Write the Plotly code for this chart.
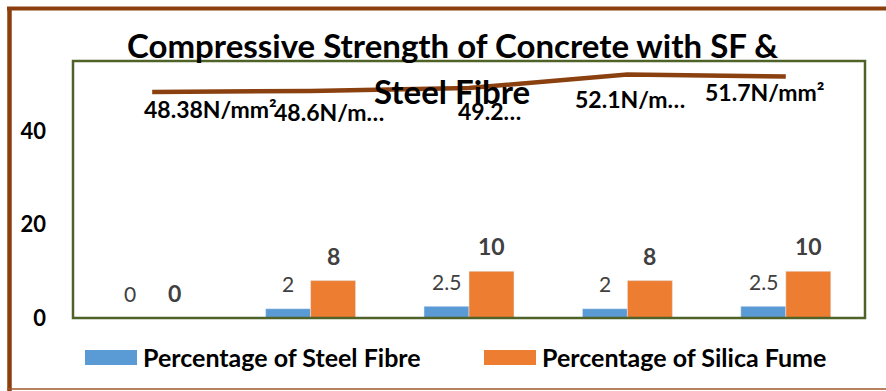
import plotly.graph_objects as go

# Mix designs (five concrete batches)
mixes = ["M1", "M2", "M3", "M4", "M5"]
steel_fibre = [0, 2, 2.5, 2, 2.5]          # % steel fibre
silica_fume = [0, 8, 10, 8, 10]            # % silica fume
strength = [48.38, 48.6, 49.2, 52.1, 51.7]  # compressive strength, N/mm²
strength_labels = ["48.38N/mm²", "48.6N/m…", "49.2…", "52.1N/m…", "51.7N/mm²"]
y_ticks = [0, 20, 40]

W, H = 886, 391
L, R, T, B = 73, 21, 61, 73
PW, PH = W - L - R, H - T - B
FONT = "Lato, 'Open Sans', sans-serif"

BLUE = "#5B9BD5"
ORANGE = "#ED7D31"
BROWN = "#8B3F0F"
GREEN = "#4F6228"
GREY = "#404040"


def px(x):
    return (x - L) / PW


def py(y):
    return (H - B - y) / PH


fig = go.Figure()
fig.add_trace(go.Bar(x=mixes, y=steel_fibre, marker_color=BLUE,
                     name="Percentage of Steel Fibre"))
fig.add_trace(go.Bar(x=mixes, y=silica_fume, marker_color=ORANGE,
                     name="Percentage of Silica Fume"))
fig.add_trace(go.Scatter(x=mixes, y=strength, mode="lines",
                         line=dict(color="#8B4010", width=4.5),
                         name="Compressive Strength"))

annotations = []

# value labels above the bars
for i, m in enumerate(mixes):
    annotations.append(dict(x=m, y=steel_fibre[i], xref="x", yref="y",
                            text=f"{steel_fibre[i]:g}", showarrow=False,
                            xshift=-22.5, yshift=25, yanchor="middle",
                            font=dict(family=FONT, size=21, color=GREY)))
    annotations.append(dict(x=m, y=silica_fume[i], xref="x", yref="y",
                            text=f"<b>{silica_fume[i]:g}</b>", showarrow=False,
                            xshift=22.5, yshift=25, yanchor="middle",
                            font=dict(family=FONT, size=23, color=GREY)))

# strength labels under the line
label_shift = [(58, -17), (18, -21), (20, -23), (3, -24), (-21, -16)]
for i, m in enumerate(mixes):
    dx, dy = label_shift[i]
    annotations.append(dict(x=m, y=strength[i], xref="x", yref="y",
                            text=f"<b>{strength_labels[i]}</b>", showarrow=False,
                            xshift=dx, yshift=dy, yanchor="middle",
                            font=dict(family=FONT, size=23, color="black")))

# chart title, two lines
annotations.append(dict(x=px(452), y=py(45), xref="paper", yref="paper",
                        text="<b>Compressive Strength of Concrete with SF &</b>",
                        showarrow=False, yanchor="middle",
                        font=dict(family=FONT, size=33, color="black")))
annotations.append(dict(x=px(452), y=py(91), xref="paper", yref="paper",
                        text="<b>Steel Fibre</b>",
                        showarrow=False, yanchor="middle",
                        font=dict(family=FONT, size=33, color="black")))

# legend entries
legend_items = [("Percentage of Steel Fibre", BLUE, 85), ("Percentage of Silica Fume", ORANGE, 484)]
shapes = []
for text, color, x0 in legend_items:
    shapes.append(dict(type="rect", xref="paper", yref="paper",
                       x0=px(x0), x1=px(x0 + 52), y0=py(365), y1=py(350),
                       fillcolor=color, line=dict(width=0)))
    annotations.append(dict(x=px(x0 + 56), y=py(357), xref="paper", yref="paper",
                            text=f"<b>{text}</b>", showarrow=False,
                            xanchor="left", yanchor="middle",
                            font=dict(family=FONT, size=25, color="black")))

# plot-area frame
shapes.append(dict(type="rect", xref="paper", yref="paper", x0=0, x1=1, y0=0, y1=1,
                   line=dict(color=GREEN, width=2.5), layer="above"))
# outer chart frame
shapes.append(dict(type="line", xref="paper", yref="paper",
                   x0=px(9.5), x1=px(9.5), y0=py(7), y1=py(391),
                   line=dict(color=BROWN, width=4.5)))
shapes.append(dict(type="line", xref="paper", yref="paper",
                   x0=px(7), x1=px(886), y0=py(8.5), y1=py(8.5),
                   line=dict(color=BROWN, width=4)))
shapes.append(dict(type="line", xref="paper", yref="paper",
                   x0=px(7), x1=px(886), y0=py(389), y1=py(389),
                   line=dict(color="#A0582A", width=1.5)))

fig.update_layout(
    width=W, height=H,
    margin=dict(l=L, r=R, t=T, b=B),
    paper_bgcolor="white", plot_bgcolor="white",
    barmode="group", bargap=0.432, bargroupgap=0,
    showlegend=False,
    annotations=annotations,
    shapes=shapes,
    xaxis=dict(showticklabels=False, showgrid=False, zeroline=False,
               showline=False, ticks=""),
    yaxis=dict(range=[0, 55], tickvals=y_ticks, showgrid=False, zeroline=False,
               showline=False, ticks="", ticklabelstandoff=26,
               tickfont=dict(family=FONT, size=22, color="black", weight="bold")),
)

fig.write_html("out.html")
